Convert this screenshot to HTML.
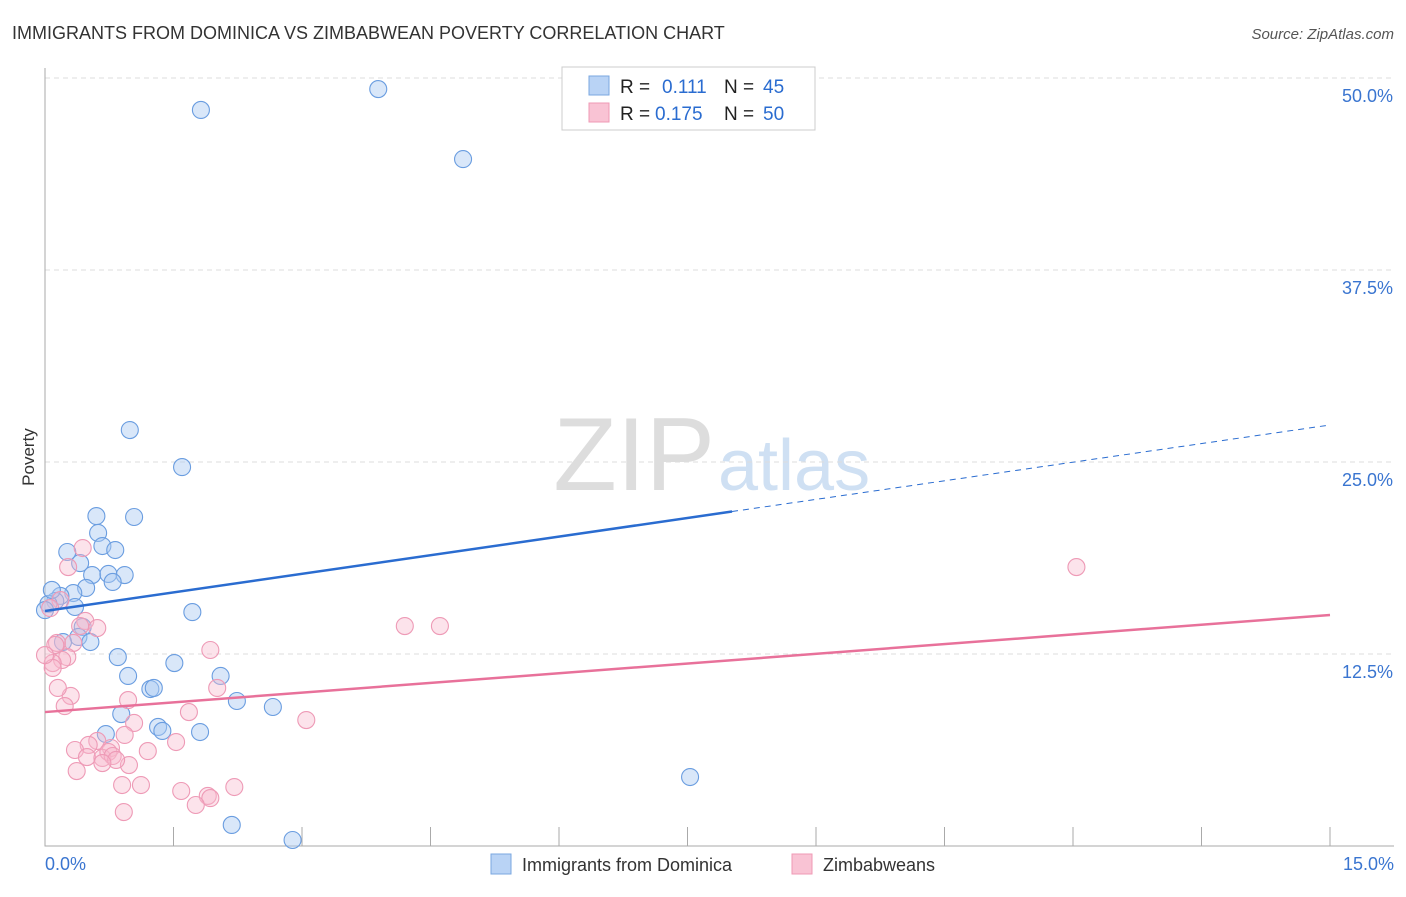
<!DOCTYPE html>
<html><head><meta charset="utf-8"><style>
body{margin:0;background:#fff;font-family:"Liberation Sans",sans-serif}
svg text{font-family:"Liberation Sans",sans-serif}
</style></head><body>
<svg id="c" width="1406" height="892" xmlns="http://www.w3.org/2000/svg">
<text x="12" y="39" font-size="18" fill="#333">IMMIGRANTS FROM DOMINICA VS ZIMBABWEAN POVERTY CORRELATION CHART</text>
<text x="1394" y="39" font-size="15" fill="#555" text-anchor="end" font-style="italic">Source: ZipAtlas.com</text>
<text x="34" y="457" font-size="17" fill="#333" transform="rotate(-90 34 457)" text-anchor="middle">Poverty</text>
<text x="715" y="490" font-size="104" fill="#ddd" text-anchor="end" font-family="Liberation Serif">ZIP</text>
<text x="718" y="490" font-size="72" fill="#cfe0f3">atlas</text>
<g id="grid"></g><g id="marks"></g><g id="lines"></g>
<g>
<rect x="562" y="67" width="253" height="63" fill="#fff" stroke="#ccc"/>
<rect x="589" y="76" width="20" height="19" fill="#b9d3f5" stroke="#7aa7e0"/>
<rect x="589" y="103" width="20" height="19" fill="#f9c3d4" stroke="#ef9ab5"/>
<text x="620" y="93" font-size="19" fill="#222">R = </text><text x="662" y="93" font-size="19" fill="#2a6cd0">0.111</text>
<text x="724" y="93" font-size="19" fill="#222">N = </text><text x="763" y="93" font-size="19" fill="#2a6cd0">45</text>
<text x="620" y="120" font-size="19" fill="#222">R = </text><text x="655" y="120" font-size="19" fill="#2a6cd0">0.175</text>
<text x="724" y="120" font-size="19" fill="#222">N = </text><text x="763" y="120" font-size="19" fill="#2a6cd0">50</text>
</g>
<g>
<rect x="491" y="854" width="20" height="20" fill="#b9d3f5" stroke="#7aa7e0"/>
<text x="522" y="871" font-size="18" fill="#333">Immigrants from Dominica</text>
<rect x="792" y="854" width="20" height="20" fill="#f9c3d4" stroke="#ef9ab5"/>
<text x="823" y="871" font-size="18" fill="#333">Zimbabweans</text>
</g>
<text x="45" y="870" font-size="18" fill="#3a75d0">0.0%</text>
<text x="1394" y="870" font-size="18" fill="#3a75d0" text-anchor="end">15.0%</text>
</svg>
<script>
const yTicks=[12.5,25,37.5,50];
const yTickLabels=["12.5%","25.0%","37.5%","50.0%"];
const xTicks=[0,1.5,3,4.5,6,7.5,9,10.5,12,13.5,15];
const blueX=[1.82,3.89,4.88,0.99,1.60,0.60,1.04,0.62,0.26,0.67,0.82,0.41,0.55,0.74,0.93,0.79,0.48,0.33,0.18,0.12,0.04,0.08,0.0,0.35,1.72,0.44,0.39,0.21,0.53,0.85,1.51,2.05,0.97,1.23,1.27,2.24,2.66,0.89,1.32,1.37,1.81,0.71,7.53,2.18,2.89];
const blueY=[47.92,49.28,44.72,27.08,24.67,21.48,21.42,20.38,19.14,19.53,19.27,18.42,17.64,17.71,17.64,17.19,16.80,16.47,16.28,15.95,15.76,16.67,15.36,15.56,15.23,14.26,13.61,13.28,13.28,12.30,11.91,11.07,11.07,10.22,10.29,9.44,9.05,8.59,7.75,7.49,7.42,7.29,4.49,1.37,0.39];
const pinkX=[12.04,4.20,4.61,0.44,0.27,0.47,0.61,0.41,0.14,0.33,0.26,0.20,0.09,0.09,1.93,0.30,0.15,0.23,0.97,2.01,1.04,3.05,1.68,1.53,0.61,0.51,0.35,0.77,0.49,0.67,0.74,0.79,0.93,1.20,0.98,0.37,0.90,1.12,1.59,1.90,1.93,2.21,1.76,0.92,0.12,0.0,0.18,0.06,0.83,0.67];
const pinkY=[18.16,14.32,14.32,19.40,18.16,14.65,14.19,14.32,13.22,13.22,12.30,12.11,11.91,11.59,12.76,9.77,10.29,9.11,9.50,10.29,8.01,8.20,8.72,6.77,6.84,6.58,6.25,6.38,5.79,5.73,6.12,5.86,7.23,6.18,5.27,4.88,3.97,3.97,3.58,3.26,3.12,3.84,2.67,2.21,13.09,12.43,16.01,15.49,5.60,5.40];
const blueTrend=[15.30,27.41], blueSolidEnd=8.02;
const pinkTrend=[8.72,15.04];
const NS="http://www.w3.org/2000/svg";
const X=v=>45+v/15*1285, Y=v=>846-v/50*768;
function mk(t,a,p){const e=document.createElementNS(NS,t);for(const k in a)e.setAttribute(k,a[k]);p.appendChild(e);return e;}
const grid=document.getElementById('grid'),marks=document.getElementById('marks'),lines=document.getElementById('lines');
yTicks.forEach((t,i)=>{
 const l=mk('line',{x1:45,x2:1394,y1:Y(t),y2:Y(t),stroke:'#ddd','stroke-dasharray':'5 4'},grid);
 
 
 const tx=mk('text',{x:1393,y:Y(t)+24,'font-size':18,fill:'#3a75d0','text-anchor':'end'},grid);
 tx.textContent=yTickLabels[i];
 
 
});
xTicks.forEach(t=>{
 const l=mk('line',{x1:X(t),x2:X(t),y1:827,y2:846,stroke:'#aaa'},grid);
 
 
});
const ax=mk('path',{d:'M45 68V846H1394',fill:'none',stroke:'#aaa'},grid);


blueX.forEach((v,i)=>{
 const c=mk('circle',{cx:X(v),cy:Y(blueY[i]),r:8.5,fill:'rgba(170,202,242,0.45)',stroke:'#6a9de0','stroke-width':1.1},marks);
 
 
});
pinkX.forEach((v,i)=>{
 const c=mk('circle',{cx:X(v),cy:Y(pinkY[i]),r:8.5,fill:'rgba(248,186,205,0.4)',stroke:'#ee9ab6','stroke-width':1.1},marks);
 
 
});
const by=x=>blueTrend[0]+(blueTrend[1]-blueTrend[0])*x/15;
let l1=mk('line',{x1:X(0),y1:Y(by(0)),x2:X(blueSolidEnd),y2:Y(by(blueSolidEnd)),stroke:'#2a6cd0','stroke-width':2.5},lines);


let l2=mk('line',{x1:X(blueSolidEnd),y1:Y(by(blueSolidEnd)),x2:X(15),y2:Y(by(15)),stroke:'#2a6cd0','stroke-width':1,'stroke-dasharray':'6 5'},lines);


let l3=mk('line',{x1:X(0),y1:Y(pinkTrend[0]),x2:X(15),y2:Y(pinkTrend[1]),stroke:'#e8719a','stroke-width':2.5},lines);


</script>
</body></html>
